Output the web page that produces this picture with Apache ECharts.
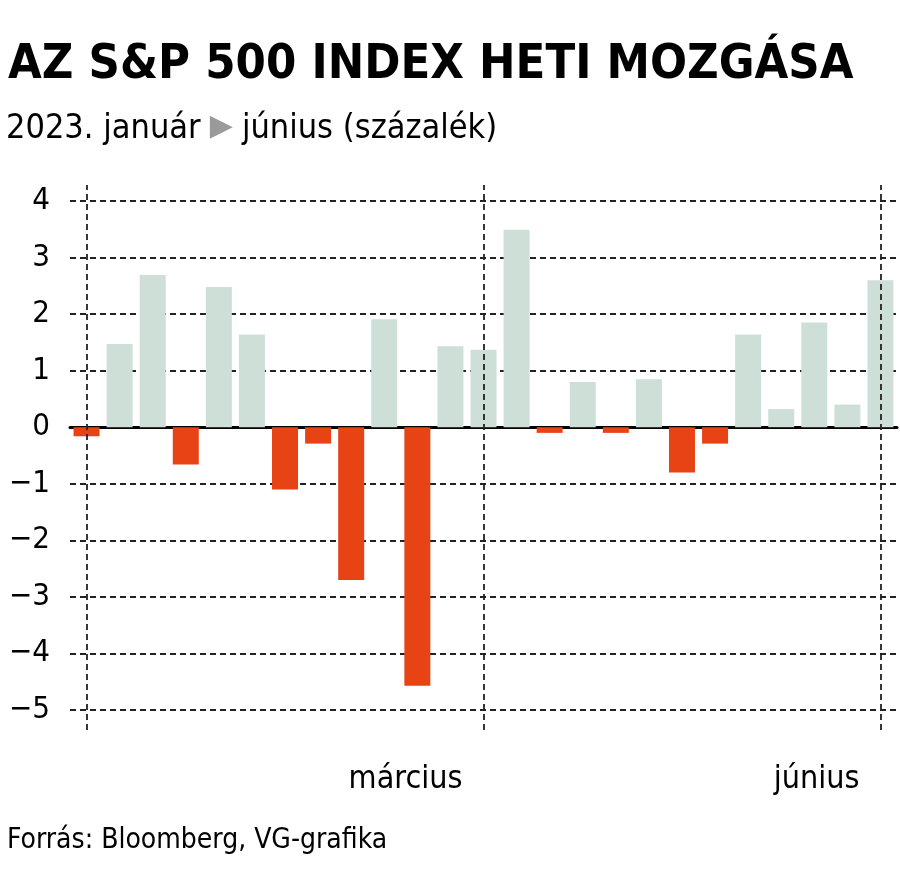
<!DOCTYPE html>
<html>
<head>
	<meta charset="utf-8" />
	<title>S&amp;P 500 heti mozgása</title>
	<script src="https://cdn.jsdelivr.net/npm/echarts@6/dist/echarts.min.js"></script>
	<style>
		html, body { margin: 0; padding: 0; background: #fff; }
	</style>
</head>
<body>
	<div id="main" style="width: 900px;height: 876px;"></div>
	<script type="text/javascript">

		// heti adatok, 2023. január - június
		var weeks = ['01.06', '01.13', '01.20', '01.27', '02.03', '02.10', '02.17', '02.24',
			'03.03', '03.10', '03.17', '03.24', '03.31', '04.06', '04.14', '04.21', '04.28',
			'05.05', '05.12', '05.19', '05.26', '06.02', '06.09', '06.16', '06.23'];
		var changes = [-0.16, 1.47, 2.69, -0.66, 2.48, 1.64, -1.10, -0.29, -2.70, 1.91,
			-4.57, 1.43, 1.37, 3.49, -0.10, 0.80, -0.10, 0.85, -0.80, -0.29,
			1.64, 0.32, 1.85, 0.40, 2.60];
		// függőleges elválasztók és hónapfeliratok
		var dividers = ['01.06', '03.31', '06.23'];
		var monthLabels = { '03.31': 'március', '06.23': 'június' };
		var yTicks = [-5, -4, -3, -2, -1, 0, 1, 2, 3, 4];

		var font = '"DejaVu Sans Condensed", "Liberation Sans Narrow", sans-serif';
		var posColor = '#cddfd7';
		var negColor = '#e84315';
		var dash = [6, 4];

		var myChart = echarts.init(document.getElementById('main'), null, { renderer: 'canvas' });

		var option = {
			backgroundColor: '#fff',
			animation: false,
			textStyle: { fontFamily: font },
			title: [
				{
					text: 'AZ S&P 500 INDEX HETI MOZGÁSA',
					left: 3,
					top: 36,
					textStyle: { fontFamily: font, fontSize: 48.5, fontWeight: 'bold', color: '#000' }
				},
				{
					text: '{a|2023. január} {t|▶} {a|június (százalék)}',
					left: 1,
					top: 107,
					textStyle: {
						fontWeight: 'normal',
						rich: {
							a: { fontFamily: font, fontSize: 34, fontWeight: 'normal', color: '#000' },
							t: { fontFamily: 'DejaVu Sans', fontSize: 30, color: '#9a9a9a', padding: [0, 4, 4, 4] }
						}
					}
				},
				{
					text: 'Forrás: Bloomberg, VG-grafika',
					left: 2,
					top: 822,
					textStyle: { fontFamily: font, fontSize: 28, fontWeight: 'normal', color: '#000' }
				}
			],
			grid: [
				{ left: 70, right: 3, top: 201, bottom: 166 },
				{ left: 70, right: 3, top: 185, bottom: 146 }
			],
			xAxis: [
				{
					type: 'category',
					gridIndex: 0,
					data: weeks,
					axisLine: { onZero: true, lineStyle: { color: '#000', width: 3 } },
					axisTick: { show: false },
					axisLabel: { show: false },
					splitLine: { show: false }
				},
				{
					type: 'category',
					gridIndex: 1,
					data: weeks,
					axisLine: { show: false },
					axisTick: { show: false },
					splitLine: { show: false },
					axisLabel: {
						interval: function (idx, name) { return monthLabels[name] !== undefined; },
						formatter: function (name) { return monthLabels[name] || ''; },
						align: 'right',
						padding: [0, 21, 0, 0],
						margin: 34,
						fontFamily: font,
						fontSize: 32,
						color: '#000'
					}
				}
			],
			yAxis: [
				{
					type: 'value',
					gridIndex: 0,
					min: yTicks[0],
					max: yTicks[yTicks.length - 1],
					interval: 1,
					axisLine: { show: false },
					axisTick: { show: false },
					axisLabel: {
						margin: 20,
						fontFamily: font,
						fontSize: 31,
						color: '#000',
						formatter: function (v) { return String(v).replace('-', '\u2212'); }
					},
					splitLine: { show: true, lineStyle: { color: '#222', width: 1.8, type: dash } }
				},
				{
					type: 'value',
					gridIndex: 1,
					min: 0,
					max: 1,
					show: false
				}
			],
			series: [
				{
					type: 'bar',
					xAxisIndex: 0,
					yAxisIndex: 0,
					data: changes,
					barWidth: 26,
					z: 1,
					itemStyle: {
						color: function (p) { return p.value < 0 ? negColor : posColor; }
					}
				},
				{
					type: 'line',
					xAxisIndex: 1,
					yAxisIndex: 1,
					data: weeks.map(function () { return '-'; }),
					showSymbol: false,
					silent: true,
					markLine: {
						silent: true,
						symbol: 'none',
						label: { show: false },
						lineStyle: { color: '#222', width: 1.8, type: dash },
						data: dividers.map(function (d) { return { xAxis: d }; })
					}
				}
			]
		};

		myChart.setOption(option);
	</script>
</body>
</html>
